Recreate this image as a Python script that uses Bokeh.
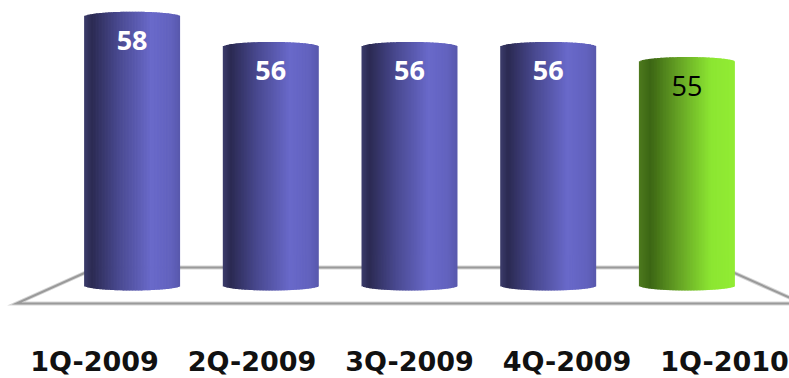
import numpy as np
from bokeh.plotting import figure
from bokeh.models import ColumnDataSource, Range1d
from bokeh.embed import file_html
from bokeh.resources import INLINE
from bokeh.core.properties import value

# --- data -------------------------------------------------------------
quarters = ["1Q-2009", "2Q-2009", "3Q-2009", "4Q-2009", "1Q-2010"]
scores = [58, 56, 56, 56, 55]
is_current = [False, False, False, False, True]

# --- layout constants -------------------------------------------------
W, H = 789, 378
BASE = 40.2            # value level where the cylinders stand
PX_PER_UNIT = 15.1     # vertical pixels per value unit
SLOT_PX = 138.7        # horizontal pixels between cylinder centres
CENTER_PX = 409        # pixel position of the middle cylinder
BASE_PX = 285          # pixel row of the cylinder base
BAR_W = 0.692          # cylinder width in slot units
CAP = 5 / PX_PER_UNIT  # half height of the elliptical cap
N_STRIPS = 64

FLOOR_BACK = 2.255     # half width of the floor's back edge (slot units)
FLOOR_FRONT = 2.834    # half width of the floor's front edge
FLOOR_DEPTH = 18 / PX_PER_UNIT
LABEL_SPREAD = 1.1356  # category labels sit on a wider front plane

n = len(quarters)
c = (n - 1) / 2

# horizontal shading stops (position, rgb) for the two cylinder colours
BLUE_STOPS = [(0.0, (60, 60, 108)), (0.08, (43, 42, 82)), (0.35, (72, 72, 142)),
              (0.70, (105, 105, 202)), (0.90, (98, 98, 190)), (1.0, (88, 88, 172))]
GREEN_STOPS = [(0.0, (78, 122, 30)), (0.12, (60, 102, 20)), (0.40, (100, 160, 36)),
               (0.75, (140, 230, 50)), (1.0, (146, 236, 52))]


def shade(stops, t):
    pos = [s[0] for s in stops]
    rgb = [np.interp(t, pos, [s[1][k] for s in stops]) for k in range(3)]
    return "#%02x%02x%02x" % tuple(int(round(v)) for v in rgb)


p = figure(width=W, height=H, output_backend="svg", toolbar_location=None,
           x_range=Range1d(c - CENTER_PX / SLOT_PX, c + (W - CENTER_PX) / SLOT_PX),
           y_range=Range1d(BASE - (H - BASE_PX) / PX_PER_UNIT, BASE + BASE_PX / PX_PER_UNIT),
           min_border=0)
p.axis.visible = False
p.grid.visible = False
p.outline_line_color = None
p.background_fill_color = "white"
p.border_fill_color = "white"

# --- floor plane ----------------------------------------------------
floor_x = [c - FLOOR_BACK, c + FLOOR_BACK, c + FLOOR_FRONT, c - FLOOR_FRONT, c - FLOOR_BACK]
floor_y = [BASE + FLOOR_DEPTH, BASE + FLOOR_DEPTH, BASE - FLOOR_DEPTH,
           BASE - FLOOR_DEPTH, BASE + FLOOR_DEPTH]
p.line(floor_x, floor_y, line_color="#d6d6d6", line_width=4, line_join="miter")
p.line(floor_x, floor_y, line_color="#9a9a9a", line_width=2, line_join="miter")

# --- cylinders, built from thin overlapping vertical strips -----------
overlap = 0.8 / SLOT_PX
strips = dict(left=[], right=[], top=[], bottom=[], color=[])
for i, (v, cur) in enumerate(zip(scores, is_current)):
    edges = np.linspace(i - BAR_W / 2, i + BAR_W / 2, N_STRIPS + 1)
    stops = GREEN_STOPS if cur else BLUE_STOPS
    for k, (l, r) in enumerate(zip(edges[:-1], edges[1:])):
        u = ((l + r) / 2 - i) / (BAR_W / 2)
        arc = CAP * np.sqrt(max(0.0, 1 - u * u))
        strips["left"].append(l)
        strips["right"].append(r + (overlap if k < N_STRIPS - 1 else 0))
        strips["top"].append(v + arc)
        strips["bottom"].append(BASE - arc)
        strips["color"].append(shade(stops, (u + 1) / 2))

p.quad(left="left", right="right", top="top", bottom="bottom",
       fill_color="color", line_color=None, source=ColumnDataSource(strips))

# --- value labels inside the cylinders --------------------------------
vals = ColumnDataSource(dict(
    x=list(range(n)),
    y=[v - 24 / PX_PER_UNIT for v in scores],
    text=[str(v) for v in scores],
    color=["black" if cur else "white" for cur in is_current],
    style=["normal" if cur else "bold" for cur in is_current],
))
p.text(x="x", y="y", text="text", source=vals, text_color="color",
       text_font_style="style", text_font=value("Open Sans"),
       text_font_size=value("27px"), text_align="center",
       text_baseline="alphabetic")

# --- category labels along the front -------------------------------
cats = ColumnDataSource(dict(
    x=[c + (i - c) * LABEL_SPREAD for i in range(n)],
    y=[BASE - 76.3 / PX_PER_UNIT] * n,
    text=quarters,
))
p.text(x="x", y="y", text="text", source=cats, text_color="#111111",
       text_font=value("DejaVu Sans"), text_font_style="bold",
       text_font_size=value("27px"), text_align="center",
       text_baseline="alphabetic")

open("out.html", "w").write(file_html(p, INLINE))
